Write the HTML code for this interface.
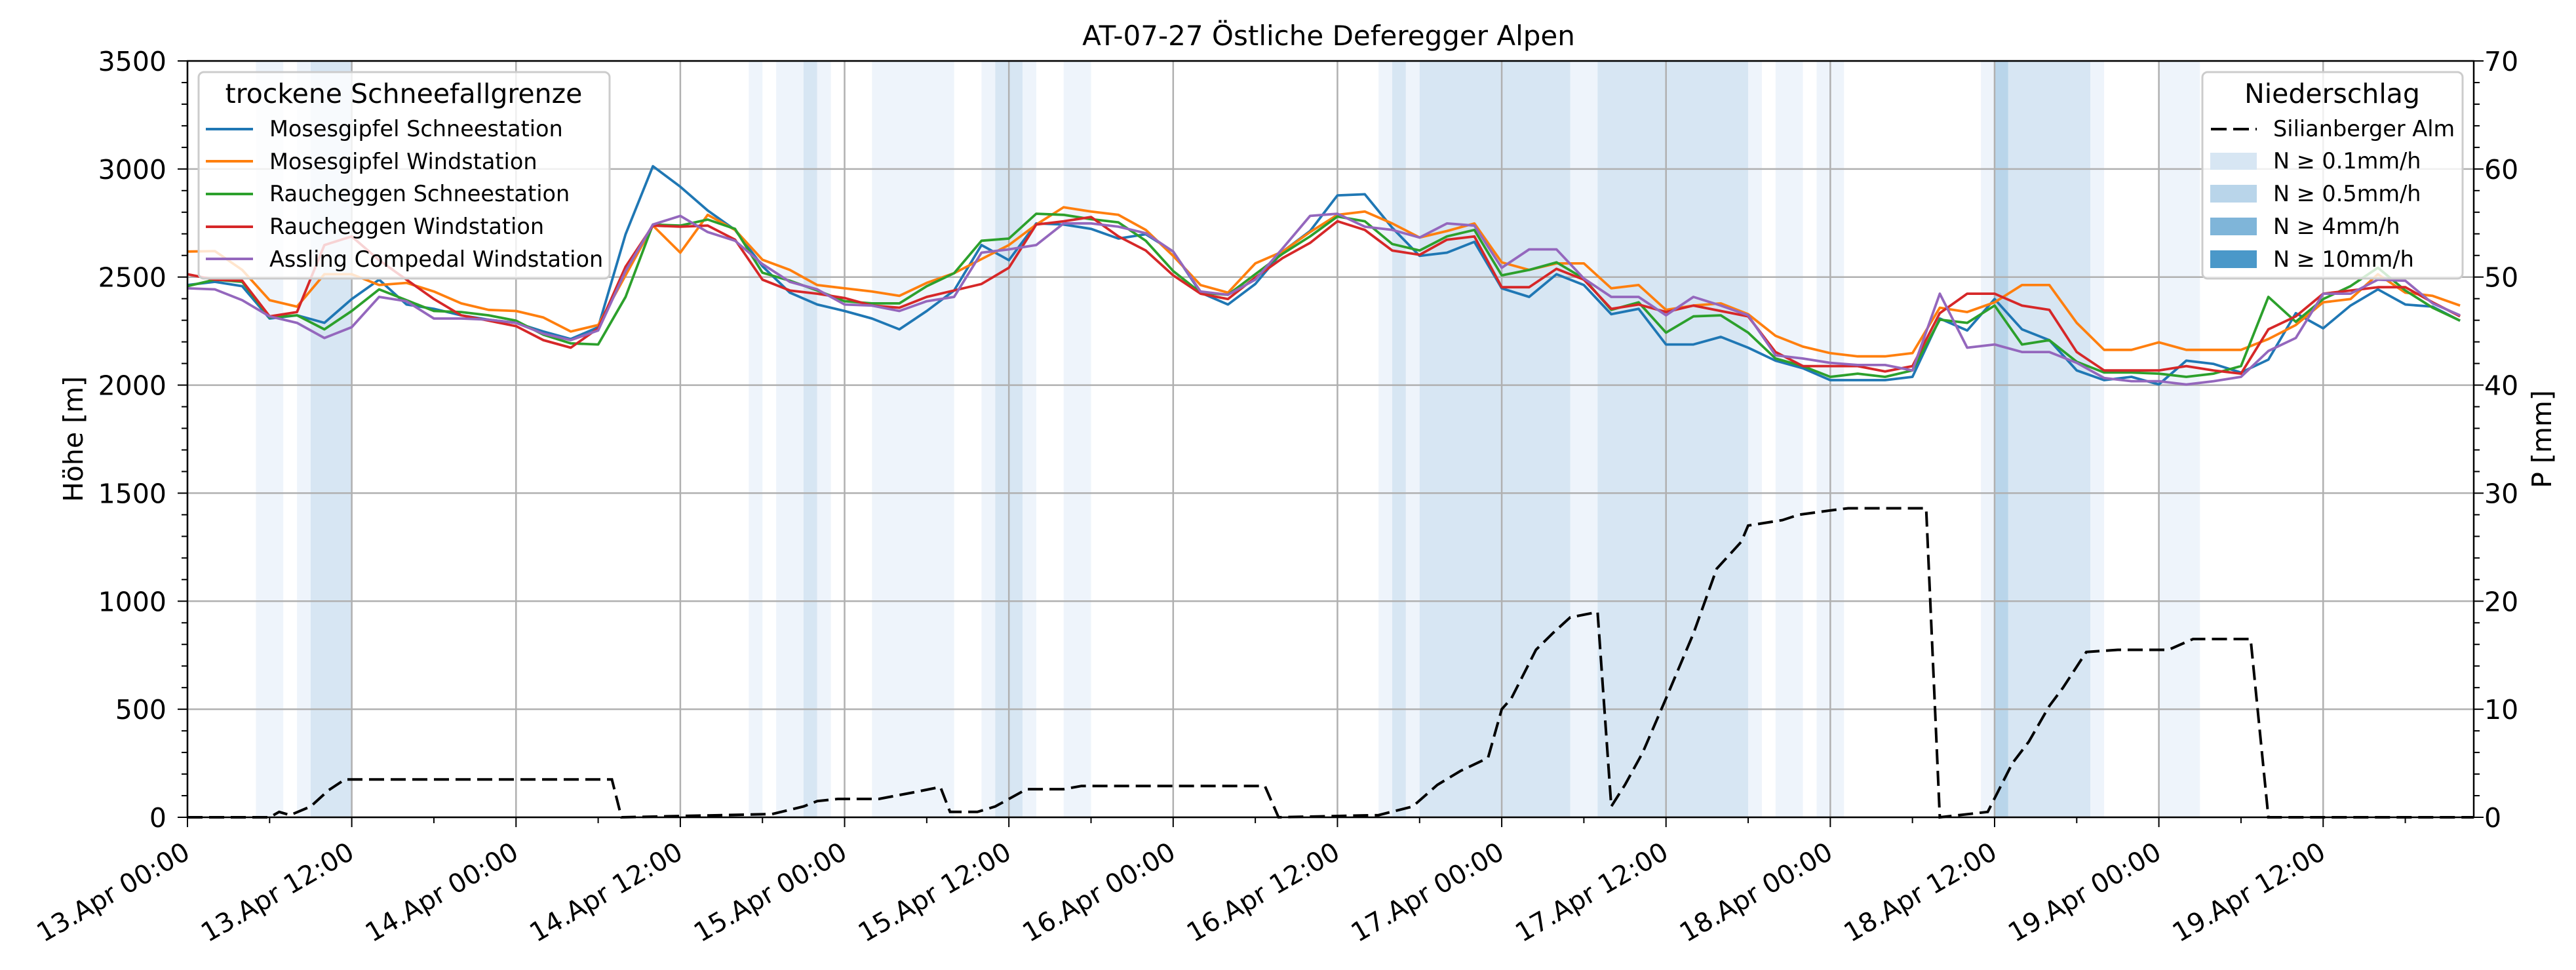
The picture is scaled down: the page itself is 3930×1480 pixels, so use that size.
<!DOCTYPE html>
<html><head><meta charset="utf-8"><style>
html,body{margin:0;padding:0;background:#fff;}
svg{display:block;font-family:"DejaVu Sans","Liberation Sans",sans-serif;}
</style></head><body>
<svg id="chart" width="3930" height="1480" viewBox="0 0 3930 1480" xmlns="http://www.w3.org/2000/svg">
<rect width="3930" height="1480" fill="#fff"/>
<g id="bands"></g><g id="grid"></g><g id="lines"></g><g id="axes"></g><g id="legends"></g>
</svg>
<script>
const hours=[0,2,4,6,8,10,12,14,16,18,20,22,24,26,28,30,32,34,36,38,40,42,44,46,48,50,52,54,56,58,60,62,64,66,68,70,72,74,76,78,80,82,84,86,88,90,92,94,96,98,100,102,104,106,108,110,112,114,116,118,120,122,124,126,128,130,132,134,136,138,140,142,144,146,148,150,152,154,156,158,160,162,164,166];
const mosesSchnee=[2463,2478,2458,2308,2323,2288,2398,2488,2373,2353,2323,2303,2288,2248,2213,2268,2698,3013,2918,2808,2718,2550,
2428,2373,2343,2308,2258,2343,2438,2648,2578,2748,2743,2723,2678,2698,2618,2428,2373,2468,2618,2713,2878,
2883,2728,2598,2613,2663,2448,2408,2513,2463,2328,2353,2188,2188,2223,2173,2113,2078,2023,2023,2023,2038,
2308,2253,2398,2258,2208,2068,2023,2038,2003,2113,2098,2058,2118,2333,2263,2368,2443,2373,2363,2298];
const mosesWind=[2618,2620,2533,2393,2363,2513,2513,2463,2473,2433,2378,2348,2343,2313,2248,2278,2508,2738,2613,2788,2718,2580,
2533,2463,2448,2433,2413,2473,2518,2583,2648,2743,2823,2803,2788,2718,2598,2463,2428,2563,2618,2708,2788,
2803,2748,2683,2713,2748,2568,2533,2563,2563,2448,2463,2348,2368,2378,2328,2228,2178,2148,2133,2133,2148,
2358,2338,2383,2463,2463,2288,2163,2163,2198,2163,2163,2163,2213,2278,2383,2398,2513,2428,2413,2368];
const rauchSchnee=[2458,2488,2478,2313,2323,2258,2343,2443,2393,2343,2338,2323,2298,2233,2193,2188,2408,2743,2738,2766,2723,2520,
2483,2438,2388,2378,2378,2458,2518,2668,2678,2793,2788,2768,2753,2668,2528,2428,2418,2513,2608,2688,2780,
2758,2653,2623,2688,2718,2508,2533,2568,2493,2348,2383,2243,2318,2323,2243,2123,2088,2038,2053,2038,2068,
2303,2288,2368,2188,2208,2108,2058,2058,2053,2038,2053,2088,2408,2293,2398,2458,2543,2438,2358,2298];
const rauchWind=[2513,2488,2483,2318,2338,2648,2688,2578,2488,2398,2323,2298,2273,2208,2173,2263,2548,2738,2733,2738,2673,2488,
2438,2423,2403,2368,2358,2408,2438,2468,2543,2743,2758,2778,2688,2623,2508,2423,2398,2498,2588,2658,2758,
2718,2623,2603,2673,2688,2453,2453,2538,2488,2353,2373,2338,2368,2343,2318,2153,2088,2088,2088,2063,2088,
2333,2423,2423,2368,2348,2153,2068,2068,2068,2088,2068,2053,2258,2318,2423,2438,2453,2453,2383,2318];
const asslingWind=[2448,2443,2393,2318,2288,2218,2268,2408,2388,2308,2308,2303,2288,2238,2208,2253,2528,2743,2783,2708,2668,2560,
2478,2443,2373,2368,2343,2388,2408,2613,2628,2648,2748,2748,2733,2703,2618,2433,2418,2488,2633,2783,2793,
2733,2718,2683,2748,2738,2543,2628,2628,2493,2408,2408,2323,2408,2368,2323,2138,2123,2103,2093,2093,2068,
2423,2173,2188,2153,2153,2103,2033,2018,2018,2003,2018,2038,2158,2218,2423,2423,2488,2483,2378,2323];
const precipHours=[0,6,6.7,7.5,9,10.3,11.5,31,31.7,42.7,45,46,47.5,50.5,53,55,55.7,57.7,59,61.3,64,65.3,78.7,79.7,87,89.5,91.3,93,95,96,96.7,98.5,99.7,101,103,104,105,106.3,108,110,111.7,113.5,114,116.5,117.7,120,121.3,127,128,131.5,133.3,134.5,136,137,138.7,141,144.7,146.5,150.7,152,167];
const precipValues=[0,0,0.5,0.2,1,2.5,3.5,3.5,0,0.3,1,1.5,1.7,1.7,2.3,2.8,0.5,0.5,1,2.6,2.6,2.9,2.9,0,0.2,1,3,4.3,5.5,10,11,15.5,17,18.5,19,1,3,6,11,17,23,25.5,27,27.5,28,28.4,28.6,28.6,0,0.5,5,7,10.3,12,15.3,15.5,15.5,16.5,16.5,0,0];
const bandStart=[5,8,9,41,43,45,46,50,58,59,61,64,87,88,89,90,101,103,114,116,119,131,132,133,139,144];
const bandEnd=[7,9,12,42,45,46,47,56,59,61,62,66,88,89,90,101,103,114,115,118,121,132,133,139,140,147];
const bandLevel=[0,0,1,0,0,1,0,0,0,1,0,0,0,1,0,1,0,1,0,0,0,0,2,1,0,0];
const xTickLabels=["13.Apr 00:00","13.Apr 12:00","14.Apr 00:00","14.Apr 12:00","15.Apr 00:00","15.Apr 12:00","16.Apr 00:00","16.Apr 12:00","17.Apr 00:00","17.Apr 12:00","18.Apr 00:00","18.Apr 12:00","19.Apr 00:00","19.Apr 12:00"];
const leftTicks=[0,500,1000,1500,2000,2500,3000,3500];
const rightTicks=[0,10,20,30,40,50,60,70];

const L=286,R=3774,T=93,B=1247,HMAX=167;
const NS="http://www.w3.org/2000/svg";
const x=h=>L+h/HMAX*(R-L);
const yL=v=>B-v/3500*(B-T);
const yR=p=>B-p/70*(B-T);
function mk(tag,attrs,parent){const e=document.createElementNS(NS,tag);for(const k in attrs)e.setAttribute(k,attrs[k]);parent.appendChild(e);return e;}
const gB=document.getElementById('bands'),gG=document.getElementById('grid'),gL=document.getElementById('lines'),gA=document.getElementById('axes');
const bandColors=['#eef4fb','#d7e6f3','#b9d5ea','#7fb5d9','#4a98c9'];
bandStart.forEach((s,i)=>{
  const r=mk('rect',{x:x(s),y:T,width:x(bandEnd[i])-x(s),height:B-T,fill:bandColors[bandLevel[i]]},gB);
  
  
});
xTickLabels.forEach((t,i)=>{const xx=x(i*12);const l=mk('line',{x1:xx,x2:xx,y1:T,y2:B,stroke:'#b0b0b0','stroke-width':2.5},gG);

});
leftTicks.forEach(v=>{const l=mk('line',{x1:L,x2:R,y1:yL(v),y2:yL(v),stroke:'#b0b0b0','stroke-width':2.5},gG);

});
const series=[[mosesSchnee,'#1f77b4','Mosesgipfel Schneestation'],[mosesWind,'#ff7f0e','Mosesgipfel Windstation'],[rauchSchnee,'#2ca02c','Raucheggen Schneestation'],[rauchWind,'#d62728','Raucheggen Windstation'],[asslingWind,'#9467bd','Assling Compedal Windstation']];
series.forEach(([vals,col,name])=>{
  const d=vals.map((v,i)=>(i?'L':'M')+x(hours[i]).toFixed(1)+','+yL(v).toFixed(1)).join('');
  const p=mk('path',{d:d,fill:'none',stroke:col,'stroke-width':3.8,'stroke-linejoin':'round'},gL);
  
  
});
{const d=precipValues.map((v,i)=>(i?'L':'M')+x(precipHours[i]).toFixed(1)+','+yR(v).toFixed(1)).join('');
const p=mk('path',{d:d,fill:'none',stroke:'#000','stroke-width':4,'stroke-dasharray':'23,10'},gL);

}
const fr=mk('rect',{x:L,y:T,width:R-L,height:B-T,fill:'none',stroke:'#000','stroke-width':2.5},gA);


for(let h=0;h<=HMAX;h+=6){const major=h%12===0;mk('line',{x1:x(h),x2:x(h),y1:B,y2:B+(major?15:9),stroke:'#000','stroke-width':2},gA);}
xTickLabels.forEach((t,i)=>{const xx=x(i*12)-8,yy=1283;
  const tx=mk('text',{x:xx,y:yy,'font-size':40,'text-anchor':'end','dominant-baseline':'hanging',transform:`rotate(-30 ${xx} ${yy})`},gA);
  tx.textContent=t;
  
  });
for(let v=0;v<=3500;v+=100){const major=v%500===0;mk('line',{x1:L-(major?15:9),x2:L,y1:yL(v),y2:yL(v),stroke:'#000','stroke-width':2},gA);}
leftTicks.forEach(v=>{const tx=mk('text',{x:254,y:yL(v)+15,'font-size':41,'text-anchor':'end'},gA);tx.textContent=v;
  
  });
for(let p=0;p<=70;p+=2){const major=p%10===0;mk('line',{x1:R,x2:R+(major?15:9),y1:yR(p),y2:yR(p),stroke:'#000','stroke-width':2},gA);}
rightTicks.forEach(p=>{const tx=mk('text',{x:3790,y:yR(p)+15,'font-size':41,'text-anchor':'start'},gA);tx.textContent=p;
  
  });
</script>
<svg style="position:absolute;left:0;top:0" width="3930" height="1480" viewBox="0 0 3930 1480" xmlns="http://www.w3.org/2000/svg" font-family="DejaVu Sans, Liberation Sans, sans-serif">
<text x="2027" y="69" font-size="42" text-anchor="middle">AT-07-27 Östliche Deferegger Alpen</text>
<text x="126" y="670" font-size="41" text-anchor="middle" transform="rotate(-90 126 670)">Höhe [m]</text>
<text x="3892" y="670" font-size="41" text-anchor="middle" transform="rotate(-90 3892 670)">P [mm]</text>
<g>
<rect x="303" y="110" width="627" height="315" rx="8" fill="#fff" fill-opacity="0.8" stroke="#ccc" stroke-width="3"/>
<text x="616" y="157" font-size="41" text-anchor="middle">trockene Schneefallgrenze</text>
<line x1="314" x2="386" y1="197" y2="197" stroke="#1f77b4" stroke-width="4"/><text x="411" y="208" font-size="33.5">Mosesgipfel Schneestation</text>
<line x1="314" x2="386" y1="246" y2="246" stroke="#ff7f0e" stroke-width="4"/><text x="411" y="258" font-size="33.5">Mosesgipfel Windstation</text>
<line x1="314" x2="386" y1="296" y2="296" stroke="#2ca02c" stroke-width="4"/><text x="411" y="307" font-size="33.5">Raucheggen Schneestation</text>
<line x1="314" x2="386" y1="346" y2="346" stroke="#d62728" stroke-width="4"/><text x="411" y="357" font-size="33.5">Raucheggen Windstation</text>
<line x1="314" x2="386" y1="395" y2="395" stroke="#9467bd" stroke-width="4"/><text x="411" y="407" font-size="33.5">Assling Compedal Windstation</text>
</g>
<g>
<rect x="3360" y="110" width="397" height="315" rx="8" fill="#fff" fill-opacity="0.8" stroke="#ccc" stroke-width="3"/>
<text x="3558" y="157" font-size="41" text-anchor="middle">Niederschlag</text>
<line x1="3373" x2="3443" y1="197" y2="197" stroke="#000" stroke-width="4" stroke-dasharray="24,10"/><text x="3468" y="208" font-size="33.5">Silianberger Alm</text>
<rect x="3372" y="233" width="71" height="26" fill="#d7e6f3"/><text x="3468" y="257" font-size="33.5">N ≥ 0.1mm/h</text>
<rect x="3372" y="282" width="71" height="27" fill="#b9d5ea"/><text x="3468" y="307" font-size="33.5">N ≥ 0.5mm/h</text>
<rect x="3372" y="332" width="71" height="27" fill="#7fb5d9"/><text x="3468" y="357" font-size="33.5">N ≥ 4mm/h</text>
<rect x="3372" y="382" width="71" height="27" fill="#4a98c9"/><text x="3468" y="407" font-size="33.5">N ≥ 10mm/h</text>
</g>
</svg>
</body></html>
